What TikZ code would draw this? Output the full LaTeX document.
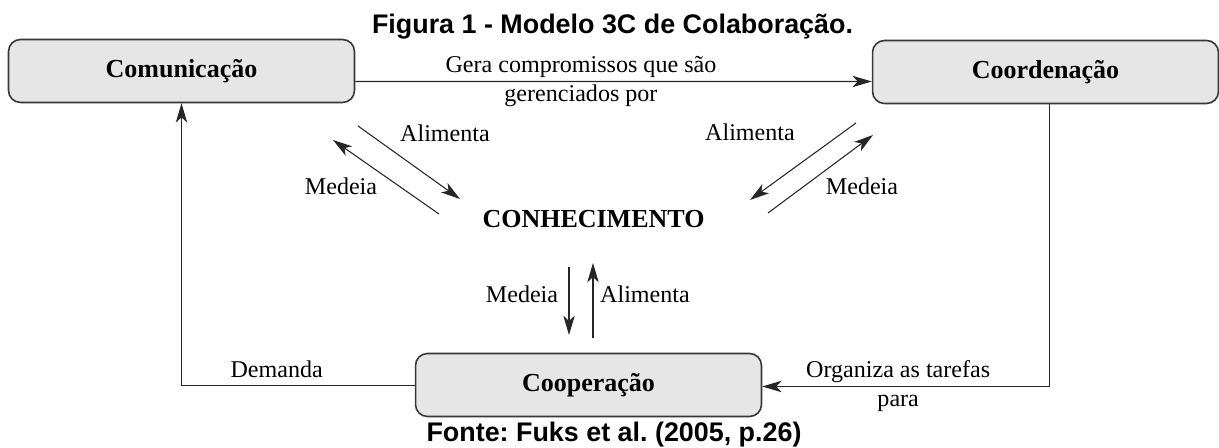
\documentclass[tikz,border=0pt]{standalone}
\usepackage{fontspec}
\setmainfont{Liberation Serif}
\newfontfamily\headfont{Liberation Sans}
\usetikzlibrary{arrows.meta, positioning, calc}
\definecolor{boxfill}{RGB}{230,230,230}
\definecolor{boxline}{RGB}{55,55,55}
\frenchspacing

\begin{document}
\begin{tikzpicture}[
    x=0.02cm, y=-0.02cm,
    area/.style={draw=boxline, line width=0.9pt, fill=boxfill, rounded corners=6.8pt, minimum width=6.92cm, minimum height=1.26cm, inner sep=0pt, font=\fontsize{14.8}{17}\selectfont\bfseries},
    lbl/.style={inner sep=1pt, align=center, font=\fontsize{13.7}{16.5}\selectfont},
    head/.style={inner sep=0pt, font=\headfont\fontsize{15.3}{18}\selectfont\bfseries},
    arrow/.style={-{Stealth[length=11pt, width=6.5pt, inset=3pt]}, line width=0.6pt, draw=black!85}
]
    \useasboundingbox (0,0) rectangle (1219,448);

    \node[head, anchor=base] (title) at (612.5,34) {Figura 1 - Modelo 3C de Colaboração.};

    \node[area] (com) at (181.5,71) {Comunicação};
    \node[area] (coor) at (1045.5,72) {Coordenação};
    \node[area] (coop) at (588.5,385) {Cooperação};
    \node[inner sep=0pt, font=\fontsize{14.8}{17}\selectfont\bfseries] (know) at (593.5,219) {CONHECIMENTO};

    \node[head, anchor=base] (src) at (614,442) {Fonte: Fuks et al. (2005, p.26)};

    % ends of the short arrows round the centre
    \coordinate (ulA1) at (358,126);
    \coordinate (ulA2) at (460,199);
    \coordinate (ulM1) at (439,214);
    \coordinate (ulM2) at (333,140);
    \coordinate (urA1) at (856,123);
    \coordinate (urA2) at (750,200);
    \coordinate (urM1) at (768,213);
    \coordinate (urM2) at (873,135);
    \coordinate (loM1) at (569,267);
    \coordinate (loM2) at (569,335);
    \coordinate (loA1) at (593,338);
    \coordinate (loA2) at (593,263);

    \draw[arrow] ([yshift=-0.21cm]com.east) -- node[lbl, pos=0.437] {Gera compromissos que são\\gerenciados por} ([yshift=-0.19cm]coor.west);
    \draw[arrow] ([yshift=-0.01cm]coop.west) -| node[lbl, pos=0.296, above=3pt] {Demanda} (com.south);
    \draw[arrow] ([xshift=2pt]coor.south) |- node[lbl, pos=0.763] {Organiza as tarefas\\para} ([yshift=-0.03cm]coop.east);

    \draw[arrow] (ulA1) -- (ulA2);
    \draw[arrow] (ulM1) -- (ulM2);
    \draw[arrow] (urA1) -- (urA2);
    \draw[arrow] (urM1) -- (urM2);
    \draw[arrow] (loM1) -- (loM2);
    \draw[arrow] (loA1) -- (loA2);

    \node[lbl] (ulAl) at (445,133) {Alimenta};
    \node[lbl] (ulMl) at (341,186) {Medeia};
    \node[lbl] (urAl) at (750,132) {Alimenta};
    \node[lbl] (urMl) at (862,186) {Medeia};
    \node[lbl] (loMl) at (522,294) {Medeia};
    \node[lbl] (loAl) at (645,294) {Alimenta};
\end{tikzpicture}
\end{document}
